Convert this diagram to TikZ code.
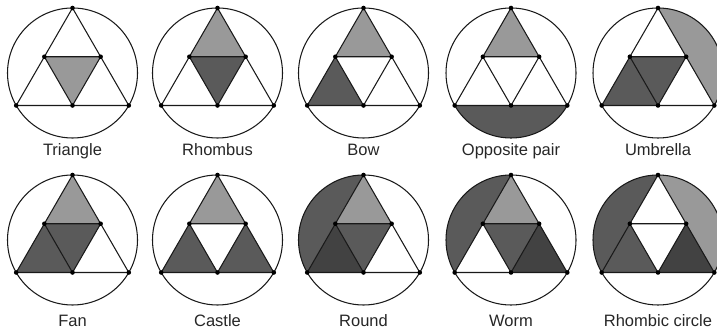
\documentclass[tikz,border=0pt]{standalone}
\usepackage{fontspec}
\setmainfont{Liberation Sans}
\definecolor{lg}{HTML}{999999}
\definecolor{dg}{HTML}{5A5A5A}
\definecolor{xg}{HTML}{424242}
\tikzset{
  edge/.style={draw=black!90, line width=1.05pt, line join=round},
  lab/.style={anchor=base, font=\fontsize{16.5}{18}\selectfont, text=black!85},
  dot/.style={fill=black}
}
\newcommand{\R}{65}
\newcommand{\setupfig}[2]{%
  \coordinate (O) at (#1,#2);
  \coordinate (A) at ($(O)+(90:\R)$);
  \coordinate (B) at ($(O)+(210:\R)$);
  \coordinate (C) at ($(O)+(330:\R)$);
  \coordinate (D) at ($(A)!0.5!(B)$);
  \coordinate (E) at ($(A)!0.5!(C)$);
  \coordinate (F) at ($(B)!0.5!(C)$);
}
\newcommand{\Ttop}[1]{\fill[#1] (A)--(D)--(E)--cycle;}
\newcommand{\Tmid}[1]{\fill[#1] (D)--(E)--(F)--cycle;}
\newcommand{\Tleft}[1]{\fill[#1] (D)--(B)--(F)--cycle;}
\newcommand{\Tright}[1]{\fill[#1] (E)--(F)--(C)--cycle;}
\newcommand{\Sbot}[1]{\fill[#1] (B) arc[start angle=210,end angle=330,radius=\R] -- cycle;}
\newcommand{\Sleft}[1]{\fill[#1] (A) arc[start angle=90,end angle=210,radius=\R] -- cycle;}
\newcommand{\Sright}[1]{\fill[#1] (C) arc[start angle=-30,end angle=90,radius=\R] -- cycle;}
\newcommand{\outline}{%
  \draw[edge] (O) circle (\R);
  \draw[edge] (A)--(B)--(C)--cycle;
  \draw[edge] (D)--(E)--(F)--cycle;
  \foreach \p in {A,B,C,D,E,F} \fill[dot] (\p) circle (2.3);
}
\usetikzlibrary{calc}
\begin{document}
\begin{tikzpicture}[x=1pt,y=1pt]
\useasboundingbox (0,0) rectangle (717,331);
\clip (0,0) rectangle (717,331);
% 1 Triangle
\setupfig{72.5}{258}
\Tmid{lg}
\outline
\node[lab] (l1) at (72.5,175) {Triangle};
% 2 Rhombus
\setupfig{217.5}{258}
\Ttop{lg}\Tmid{dg}
\outline
\node[lab] (l2) at (217.5,175) {Rhombus};
% 3 Bow
\setupfig{363.5}{258}
\Ttop{lg}\Tleft{dg}
\outline
\node[lab] (l3) at (363.5,175) {Bow};
% 4 Opposite pair
\setupfig{511}{258}
\Ttop{lg}\Sbot{dg}
\outline
\node[lab] (l4) at (511,175) {Opposite pair};
% 5 Umbrella
\setupfig{658}{258}
\Sright{lg}\Tleft{dg}\Tmid{dg}
\outline
\node[lab] (l5) at (658,175) {Umbrella};
% 6 Fan
\setupfig{72.5}{91}
\Ttop{lg}\Tmid{dg}\Tleft{dg}
\outline
\node[lab] (l6) at (72.5,4) {Fan};
% 7 Castle
\setupfig{217.5}{91}
\Ttop{lg}\Tleft{dg}\Tright{dg}
\outline
\node[lab] (l7) at (217.5,4) {Castle};
% 8 Round
\setupfig{363.5}{91}
\Sleft{dg}\Ttop{lg}\Tmid{dg}\Tleft{xg}
\outline
\node[lab] (l8) at (363.5,4) {Round};
% 9 Worm
\setupfig{511}{91}
\Sleft{dg}\Ttop{lg}\Tmid{dg}\Tright{xg}
\outline
\node[lab] (l9) at (511,4) {Worm};
% 10 Rhombic circle
\setupfig{658}{91}
\Sleft{dg}\Sright{lg}\Tleft{dg}\Tright{xg}
\outline
\node[lab] (l10) at (658,4) {Rhombic circle};
\end{tikzpicture}
\end{document}
